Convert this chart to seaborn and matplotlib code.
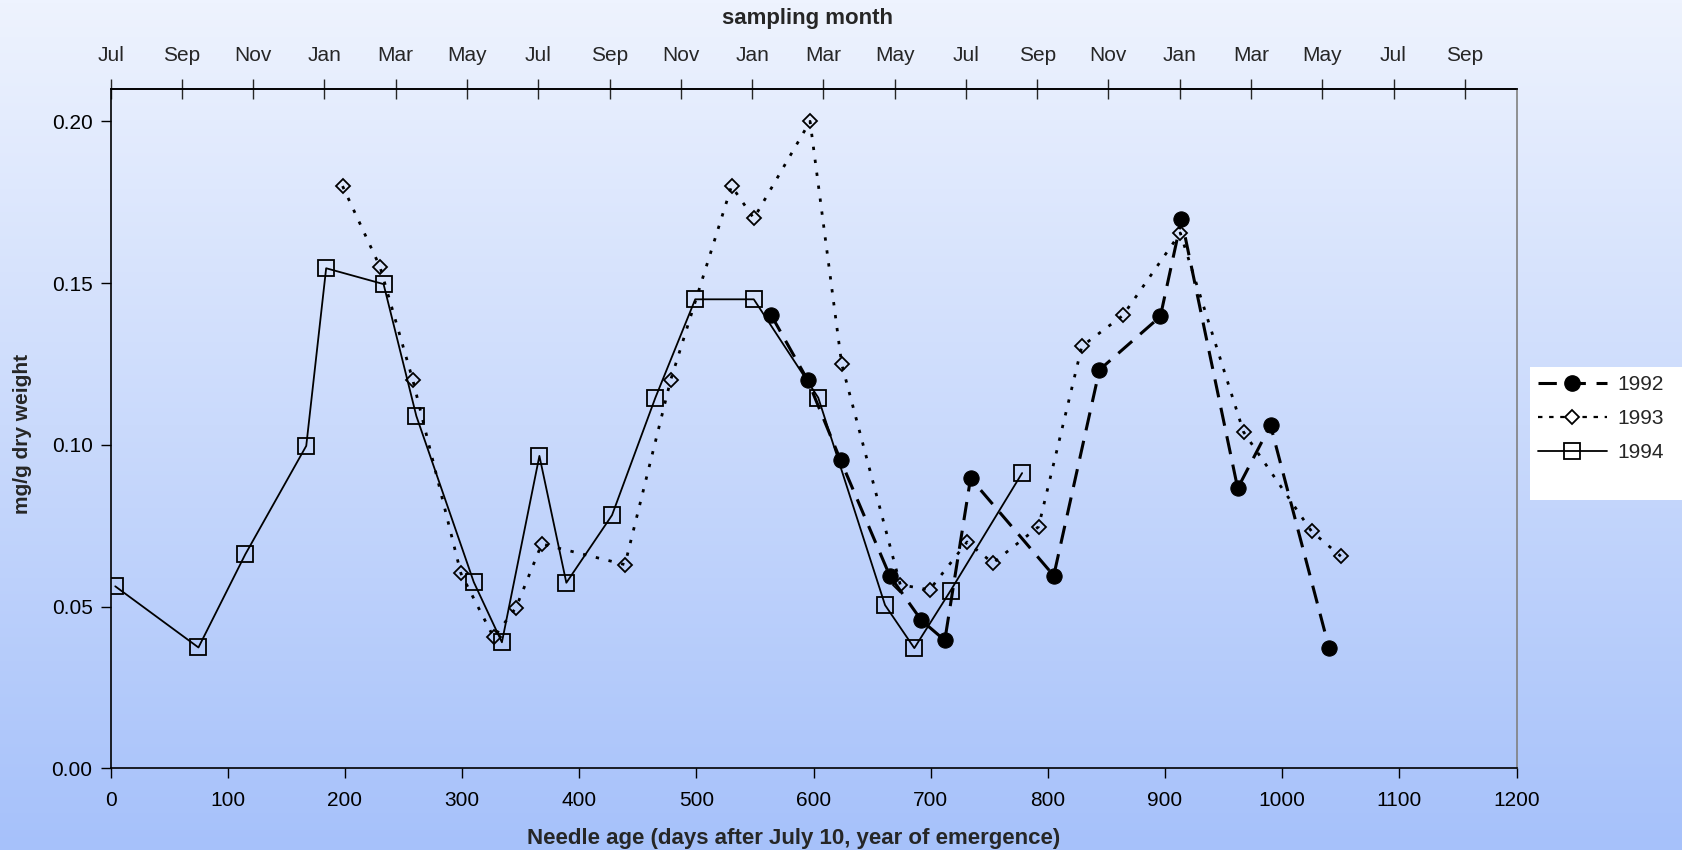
import numpy as np
import matplotlib
matplotlib.use("Agg")
import matplotlib.pyplot as plt
import seaborn as sns
from matplotlib.lines import Line2D
from matplotlib.patches import Rectangle
from matplotlib.colors import LinearSegmentedColormap

# ---------------- data ----------------
days_1992 = [564, 595, 623, 665, 692, 712, 734, 805, 844, 896, 914, 962, 990, 1040]
vals_1992 = [0.140, 0.120, 0.0953, 0.0596, 0.0458, 0.0396, 0.0897, 0.0596, 0.1232, 0.1397, 0.1698, 0.0866, 0.1061, 0.0372]

days_1993 = [198, 230, 258, 299, 327, 346, 368, 439, 478, 530, 549, 597, 624, 674, 699, 731, 753, 792, 829, 864, 913, 967, 1025, 1050]
vals_1993 = [0.180, 0.155, 0.120, 0.0603, 0.0405, 0.0497, 0.0694, 0.0630, 0.120, 0.180, 0.170, 0.200, 0.125, 0.0568, 0.0552, 0.0700, 0.0635, 0.0747, 0.1305, 0.140, 0.1655, 0.104, 0.0733, 0.0656]

days_1994 = [4, 75, 115, 167, 184, 233, 261, 310, 334, 366, 389, 428, 465, 499, 549, 604, 661, 686, 717, 778]
vals_1994 = [0.0563, 0.0374, 0.0662, 0.0997, 0.1546, 0.1497, 0.1089, 0.0576, 0.0390, 0.0966, 0.0574, 0.0783, 0.1146, 0.145, 0.145, 0.1146, 0.0505, 0.0372, 0.0550, 0.0913]

series_names = ["1992", "1993", "1994"]
month_labels = ["Jul", "Sep", "Nov", "Jan", "Mar", "May"] * 3 + ["Jul", "Sep"]
x_ticks = [0, 100, 200, 300, 400, 500, 600, 700, 800, 900, 1000, 1100, 1200]
y_ticks = [0.00, 0.05, 0.10, 0.15, 0.20]

# ---------------- style ----------------
sns.set_style("ticks")
plt.rcParams["font.family"] = ["Liberation Sans", "DejaVu Sans"]

fig = plt.figure(figsize=(16.83, 8.5), dpi=100)

# gradient background
bg = fig.add_axes([0, 0, 1, 1], zorder=-10)
grad = np.linspace(0, 1, 256).reshape(-1, 1)
cmap = LinearSegmentedColormap.from_list("bg", ["#EEF3FE", "#A6C1FA"])
bg.imshow(grad, aspect="auto", cmap=cmap, extent=[0, 1, 0, 1], origin="upper")
bg.set_axis_off()

ax = fig.add_axes([0.0657, 0.0959, 0.8354, 0.7994])
ax.set_facecolor("none")

DASH_1992 = (0, (6, 3.5))
DOT_1993 = (0, (1.2, 3.5))

common = dict(ax=ax, sort=False, color="black", legend=False)
sns.lineplot(x=days_1994, y=vals_1994, marker="s", markersize=12,
             markerfacecolor="none", markeredgecolor="black", markeredgewidth=1.3,
             linewidth=1.3, linestyle="-", **common)
sns.lineplot(x=days_1993, y=vals_1993, marker="D", markersize=7,
             markerfacecolor="none", markeredgecolor="black", markeredgewidth=1.3,
             linewidth=2.0, linestyle=DOT_1993, **common)
sns.lineplot(x=days_1992, y=vals_1992, marker="o", markersize=11,
             markerfacecolor="black", markeredgecolor="black",
             linewidth=2.2, linestyle=DASH_1992, **common)

ax.set_xlim(0, 1200)
ax.set_ylim(0, 0.21)
ax.set_xticks(x_ticks)
ax.set_xticklabels([str(t) for t in x_ticks])
ax.set_yticks(y_ticks)
ax.set_yticklabels([f"{t:.2f}" for t in y_ticks])
ax.tick_params(axis="both", direction="out", length=7, width=1, labelsize=15, colors="black")
ax.tick_params(axis="x", pad=9)
ax.tick_params(axis="y", pad=6)

for s in ["left", "bottom", "top"]:
    ax.spines[s].set_color("black")
    ax.spines[s].set_linewidth(1.2)
ax.spines["right"].set_visible(True)
ax.spines["right"].set_color("#808080")
ax.spines["right"].set_linewidth(1.2)

ax.set_xlabel("Needle age (days after July 10, year of emergence)", fontsize=16,
              fontweight="bold", labelpad=12)
ax.xaxis.set_label_coords(0.486, -0.087)
ax.set_ylabel("mg/g dry weight", fontsize=15, fontweight="bold", labelpad=12)
ax.yaxis.set_label_coords(-0.056, 0.493)

# top axis: sampling month
sec = ax.secondary_xaxis("top")
top_ticks = [k * 365 / 6 for k in range(len(month_labels))]
sec.set_xticks(top_ticks)
sec.set_xticklabels(month_labels)
sec.tick_params(direction="inout", length=14, width=1, labelsize=15, pad=10)
sec.spines["top"].set_color("black")
sec.spines["top"].set_linewidth(1.2)
sec.set_xlabel("sampling month", fontsize=16, fontweight="bold", labelpad=16)
sec.xaxis.label.set_x(0.4954)

# legend
fig.patches.append(Rectangle((1530 / 1683, 1 - 500 / 850), 152 / 1683, 133 / 850,
                             transform=fig.transFigure, facecolor="white",
                             edgecolor="none", zorder=1))
handles = [
    Line2D([], [], color="black", linestyle=DASH_1992, linewidth=2.2, marker="o",
           markersize=11, markerfacecolor="black"),
    Line2D([], [], color="black", linestyle=(0, (2, 3)), linewidth=1.6, marker="D",
           markersize=7, markerfacecolor="white", markeredgewidth=1.3),
    Line2D([], [], color="black", linestyle="-", linewidth=1.3, marker="s",
           markersize=12, markerfacecolor="none", markeredgewidth=1.3),
]
leg = fig.legend(handles, series_names, loc="upper left",
                 bbox_to_anchor=(1538 / 1683, 1 - 375 / 850), frameon=False,
                 borderpad=0, borderaxespad=0,
                 fontsize=15, handlelength=3.3, handletextpad=0.5, labelspacing=0.72)

fig.savefig("out.png", dpi=100)
